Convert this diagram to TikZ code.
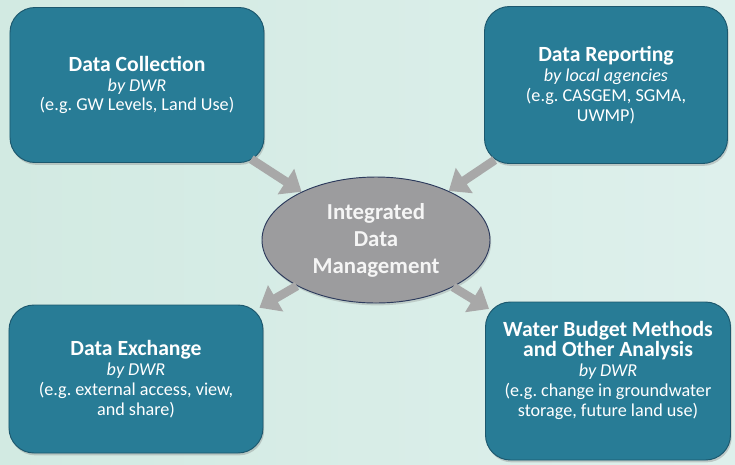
\documentclass[tikz,border=0pt]{standalone}
\usepackage{fontspec}
\setmainfont{Carlito}
\usetikzlibrary{shapes.geometric,shadows,arrows.meta}

\definecolor{boxteal}{RGB}{40,124,150}
\definecolor{boxedge}{RGB}{28,88,110}
\definecolor{ovalgray}{RGB}{156,156,158}
\definecolor{ovaledge}{RGB}{44,58,92}
\definecolor{bgleft}{RGB}{210,234,226}
\definecolor{bgright}{RGB}{222,240,236}
\definecolor{arrowgray}{RGB}{168,168,168}

\newcommand{\boxhead}[1]{{\fontsize{18.5}{20.5}\selectfont\bfseries #1}}

\begin{document}
\frenchspacing
\begin{tikzpicture}[x=0.03cm, y=-0.03cm,
    task/.style={draw=boxedge, thick, fill=boxteal, rounded corners=0.75cm,
        text=white, align=center, inner sep=0pt,
        font=\fontsize{15.5}{17}\selectfont,
        drop shadow={opacity=0.35, shadow xshift=1pt, shadow yshift=-2pt}},
    hub/.style={ellipse, draw=ovaledge, thick, fill=ovalgray, inner sep=0pt,
        minimum width=6.84cm, minimum height=3.78cm, text=gray!8, align=center,
        font=\bfseries\fontsize{19.5}{23}\selectfont,
        drop shadow={opacity=0.3, shadow xshift=1pt, shadow yshift=-2pt}},
    flow/.style={line width=7.5pt, arrowgray, -{Triangle[width=25pt, length=16pt]}}
]

    % background
    \shade[left color=bgleft, right color=bgright] (0,0) rectangle (735,464);
    \useasboundingbox (0,0) rectangle (735,464);

    % the four task boxes
    \node[task, minimum width=7.62cm, minimum height=4.65cm] (collect) at (137,85)
        {\boxhead{Data Collection}\\ \textit{by DWR}\\ (e.g. GW Levels, Land Use)};
    \node[task, minimum width=7.29cm, minimum height=4.71cm] (report) at (606,85)
        {\boxhead{Data Reporting}\\ \textit{by local agencies}\\ (e.g. CASGEM, SGMA,\\ UWMP)};
    \node[task, minimum width=7.62cm, minimum height=4.44cm] (exchange) at (136,379)
        {\boxhead{Data Exchange}\\ \textit{by DWR}\\ (e.g. external access, view,\\ and share)};
    \node[task, minimum width=7.35cm, minimum height=4.74cm] (budget) at (608,381)
        {\boxhead{Water Budget Methods}\\ \boxhead{and Other Analysis}\\ \textit{by DWR}\\
         (e.g. change in groundwater\\ storage, future land use)\\[4pt]};

    % centre
    \node[hub] (hub) at (376,240) {Integrated\\ Data\\ Management};

    % arrows in and out
    \draw[flow, shorten <=-6pt] (collect) -- (hub);
    \draw[flow, shorten <=-6pt] (report) -- (hub);
    \draw[flow, shorten >=-4pt] (hub) -- (exchange);
    \draw[flow, shorten >=-4pt] (hub) -- (budget);

\end{tikzpicture}
\end{document}
